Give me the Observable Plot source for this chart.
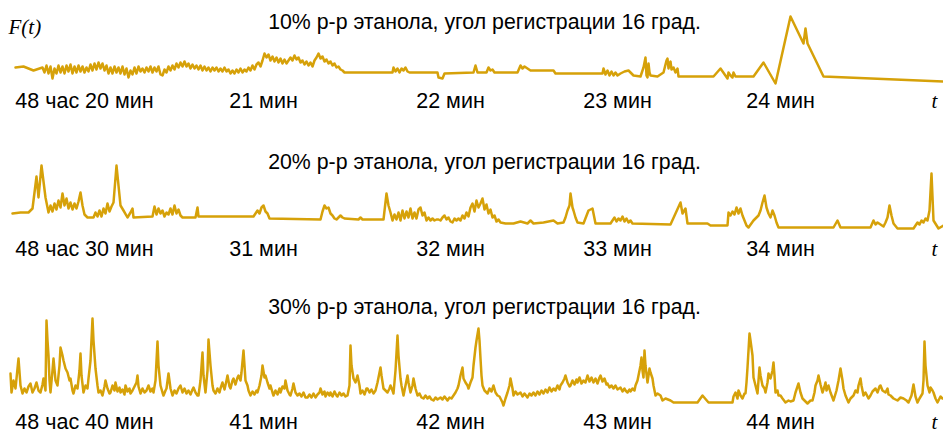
<!DOCTYPE html>
<html><head><meta charset="utf-8">
<script src="https://cdn.jsdelivr.net/npm/d3@7"></script>
<script src="https://cdn.jsdelivr.net/npm/@observablehq/plot@0.6"></script>
<style>
body{margin:0;background:#fff;}
#chart{width:943px;height:434px;position:relative;overflow:hidden;}
#chart svg{display:block;overflow:visible;}
</style></head><body><div id="chart"></div>
<script>
// Titles and tick labels
const titles = [
  "10% р-р этанола, угол регистрации 16 град.",
  "20% р-р этанола, угол регистрации 16 град.",
  "30% р-р этанола, угол регистрации 16 град."
];
const tickPos = [84, 263, 450, 617, 780];
const ticks10 = ["48 час 20 мин", "21 мин", "22 мин", "23 мин", "24 мин"];
const ticks20 = ["48 час 30 мин", "31 мин", "32 мин", "33 мин", "34 мин"];
const ticks30 = ["48 час 40 мин", "41 мин", "42 мин", "43 мин", "44 мин"];

// Series: [time sample, F(t)] pairs, one array per panel
const p10 = [[15,23],[23,24],[33,20],[42,23],[44,18],[46,25],[48,17],[50,24],[52,12],[54,22],[56,17],[58,25],[60,18],[62,24],[64,17],[66,25],[68,19],[70,26],[72,17],[74,24],[76,18],[78,25],[80,19],[82,24],[84,18],[86,23],[88,19],[90,26],[92,20],[94,27],[96,21],[98,28],[100,22],[102,27],[104,20],[106,25],[108,17],[110,23],[112,17],[114,24],[116,18],[118,23],[120,17],[122,24],[124,16],[126,22],[128,13],[130,20],[132,16],[134,23],[136,17],[138,24],[140,19],
[142,22],[144,18],[146,23],[148,19],[150,24],[152,18],[154,23],[156,19],[158,24],[160,16],[162,15],[164,21],[166,18],[168,24],[170,20],[172,25],[174,21],[176,27],[178,23],[180,28],[182,24],[184,29],[186,24],[188,27],[190,22],[192,26],[194,22],[196,25],[198,21],[200,25],[202,20],[204,24],[206,20],[208,23],[210,19],[212,23],[214,20],[216,23],[218,19],[220,22],[222,19],[224,23],[226,19],[228,21],[230,17],[232,20],[234,17],[236,21],[238,18],[240,22],[242,18],[244,21],[246,19],[248,23],[250,20],[252,25],[254,21],[256,26],[258,28],[260,24],
[262,30],[264,37],[266,33],[268,36],[270,30],[272,34],[274,29],[276,33],[278,28],[280,32],[282,27],[284,31],[286,27],[288,30],[290,33],[292,30],[294,35],[296,31],[298,33],[300,28],[302,30],[304,26],[306,29],[308,25],[310,28],[312,24],[314,30],[316,33],[318,37],[320,32],[322,34],[324,29],[326,31],[328,27],[330,29],[332,25],[334,27],[336,23],[338,24],[340,21],[342,20],[344,18],
[348,18],[392,18],[393,23],[395,19],[397,22],[399,18],[401,22],[403,20],[405,23],[407,19],[409,18],[437,18],[438,13],[442,12],[444,17],[473,18],[475,25],[477,18],[486,18],[488,23],[490,20],[492,21],[494,18],[517,18],[520,25],[522,22],[524,24],[527,22],[530,20],[553,20],[555,17],[602,17],[603,22],[605,16],[607,20],[609,15],[611,19],[613,15],[615,18],[617,15],[620,17],[624,19],[628,20],[633,15],[640,14],[643,23],[645,33],[646,15],[647,13],[648,27],[649,18],[650,15],[657,14],[663,18],[666,30],[667,32],[668,22],[669,27],[670,29],[671,21],[673,23],[675,18],[677,22],[678,14],[713,14],[720,22],[727,12],[728,18],[730,15],[732,13],[733,18],[735,14],[753,14],[763,28],[775,7],[790,74],[803,47],[805,62],[807,47],[808,45],[823,14],[943,9]];

const p20 = [[12,22],[20,23],[28,23],[32,27],[36,59],[38,38],[41,70],[45,38],[48,23],[50,30],[52,24],[54,32],[56,26],[58,35],[60,28],[62,42],[64,30],[66,37],[68,27],[70,33],[72,26],[74,32],[76,27],[78,34],[80,43],[82,30],[84,21],[87,18],[93,18],[95,23],[97,19],[99,25],[101,19],[103,27],[105,22],[107,32],[109,24],[111,29],[113,33],[116,70],[120,30],[123,25],[127,18],[130,23],[132,27],[133,18],
[152,19],[154,29],[156,21],[158,27],[160,22],[162,25],[164,19],[166,23],[168,21],[170,27],[172,21],[174,30],[176,22],[178,26],[180,20],[182,18],[195,18],[197,28],[198,19],[253,19],[255,22],[257,25],[259,22],[261,28],[263,30],[265,24],[267,22],[269,17],[320,16],[322,24],[324,30],[326,27],[328,28],[330,22],[332,20],[334,17],[336,16],[338,18],[340,20],[342,18],[344,17],[358,16],[360,18],[362,16],[383,16],[386,42],[388,30],
[390,23],[392,15],[394,21],[396,16],[398,23],[400,15],[402,25],[404,17],[406,24],[408,18],[410,27],[412,17],[414,23],[416,17],[418,26],[420,28],[422,20],[424,23],[426,15],[428,18],[430,15],[432,17],[434,15],[436,16],[438,16],[440,15],[442,18],[444,20],[446,16],[448,18],[450,14],[452,13],[454,17],[456,15],[458,17],[460,15],[462,20],[464,17],[466,23],[468,19],[470,28],[472,32],[474,24],[476,35],[478,28],[480,32],[482,37],[484,26],[486,31],[488,22],[490,26],[492,18],[494,20],[496,14],[498,16],[500,13],
[505,12],[513,12],[520,14],[527,12],[530,15],[533,12],[543,13],[553,15],[557,12],[563,13],[565,18],[567,25],[569,30],[570,42],[572,28],[573,25],[575,18],[577,13],[583,12],[588,25],[592,27],[595,12],[610,12],[612,15],[614,18],[616,14],[618,17],[620,15],[622,19],[624,14],[626,17],[628,13],[630,15],[632,12],[670,11],[680,33],[682,22],[685,27],[687,12],[707,12],[710,10],[727,10],[728,23],[730,20],[732,24],[734,21],[736,28],[738,22],[740,27],[742,20],[744,15],[746,10],[748,8],[753,15],[758,20],[760,25],[762,33],[764,40],[766,28],[768,22],[770,18],[772,25],[774,20],[776,13],[778,8],[833,8],[837,15],[840,8],[870,8],[873,15],[875,11],[877,13],[880,11],[883,9],[885,13],[887,18],[889,30],[891,20],[893,12],[897,7],[913,7],[915,10],[917,13],[919,11],[921,15],[923,13],[925,17],[927,15],[929,25],[931,62],[933,15],[938,7],[943,10]];

const p30 = [[10,37],[11,18],[13,30],[15,22],[17,42],[18,52],[20,25],[22,17],[24,22],[26,18],[28,24],[30,27],[32,18],[34,22],[36,28],[38,20],[40,18],[42,26],[43,32],[45,20],[46,90],[47,70],[48,55],[49,30],[50,18],[52,40],[53,52],[55,30],[57,25],[59,45],[60,63],[62,55],[63,50],[65,42],[67,38],[69,30],[70,32],[72,20],[73,17],[75,25],[77,22],[79,40],[80,57],[81,35],[83,18],[85,25],[87,22],[88,32],[90,50],[92,92],[93,70],[95,42],[97,25],[98,18],[100,20],
[102,15],[104,24],[105,30],[107,22],[109,17],[110,18],[112,25],[114,20],[115,28],[117,19],[119,23],[120,18],[122,21],[124,16],[125,25],[127,19],[129,22],[130,17],[132,20],[134,24],[136,28],[137,35],[138,24],[140,17],[142,22],[144,18],[146,20],[148,25],[150,19],[152,22],[153,18],[155,30],[157,69],[158,45],[160,25],[162,18],[163,15],[165,20],[166,22],[168,37],[170,22],[172,15],[174,20],[176,17],[178,22],[180,25],[182,18],[184,22],[186,17],[188,20],[190,16],[192,21],[193,23],[195,18],[197,15],[198,15],[200,30],[202,58],[203,35],[205,18],[207,40],[208,71],[210,45],[212,25],[213,20],[215,17],[217,22],[219,18],[220,22],[222,28],[224,21],[226,30],[227,35],[229,24],[230,22],[232,30],[233,32],[235,26],[237,33],[238,35],[240,30],[241,38],[243,60],[244,45],[245,30],[247,25],[248,20],[250,15],
[252,19],[254,16],[256,20],[257,18],[259,25],[261,35],[262,45],[264,33],[265,35],[267,28],[269,22],[270,25],[272,18],[273,15],[275,20],[277,16],[279,22],[280,18],[282,24],[284,22],[285,30],[287,20],[289,16],[290,15],[292,22],[293,27],[295,18],[297,15],[299,17],[301,14],[303,18],[305,13],[307,13],[309,16],[311,13],[313,17],[315,13],[317,16],[319,18],[320,22],[322,16],[324,19],[325,14],[327,18],[329,15],[330,18],[332,14],[334,19],[336,15],[337,14],[339,18],[341,15],[343,17],[345,14],[347,15],[349,25],[350,65],[351,45],[353,32],[355,28],[357,35],[359,25],[360,17],[362,20],[364,16],[366,22],[367,22],[369,18],[371,21],[373,17],[375,20],[377,28],[378,33],[380,43],[381,35],[383,22],[385,20],[387,18],[389,22],[390,25],[392,20],[393,17],[395,40],[397,75],[398,55],[400,32],[401,25],[403,15],[405,25],[407,35],[408,28],[410,18],[412,25],[413,32],[415,22],[417,15],[419,17],[421,13],[423,12],[425,15],[427,12],[429,14],[431,11],[433,10],[435,13],[437,11],[440,13],[442,11],[444,14],[447,10],[449,13],[451,12],[453,15],[455,18],[457,22],[458,25],[460,35],[462,43],[463,32],[465,28],[467,25],[468,22],[470,28],[472,33],[473,45],[475,63],[476,70],[478,82],[479,70],[480,52],[481,35],[482,25],[484,20],[486,18],[487,17],[489,22],[491,19],[493,25],[495,18],[497,15],[499,14],[500,12],[502,8],[503,5],[505,12],[507,18],[509,25],[510,32],[512,22],[513,15],[515,19],[517,16],[520,18],[522,14],[524,17],[527,13],[529,17],[531,15],[533,18],[535,15],[537,19],[539,16],[541,20],[543,17],[545,21],[547,18],[549,23],[551,19],[553,22],[555,20],[557,25],[559,21],[560,25],[562,28],[564,32],[565,35],[567,28],[569,24],[570,25],[572,30],[574,26],[576,31],[577,28],[579,33],[581,27],[583,30],[585,28],[587,35],[589,29],[591,33],[593,28],[595,32],[597,27],[599,33],[600,35],[602,29],[604,32],[606,26],[607,27],[609,23],[611,25],[613,22],[615,25],[617,21],[620,23],[622,19],[624,22],[625,20],[627,18],[629,21],[630,19],[632,22],[634,20],[635,25],[637,30],[638,35],[640,45],[641,53],[642,40],[643,33],[644,60],[645,45],[647,28],[648,35],[649,42],[650,38],[652,32],[653,25],[655,15],[657,17],[660,15],[662,10],[665,12],[670,10],[673,8],
[697,8],[702,15],[708,8],[732,8],[733,14],[735,18],[737,12],[738,20],[740,15],[742,12],[744,17],[745,17],[746,28],[747,43],[748,60],[749,77],[750,70],[752,55],[753,33],[755,25],[757,17],[758,30],[759,43],[760,35],[762,25],[764,22],[765,18],[767,28],[768,37],[770,32],[772,40],[773,48],[774,35],[775,18],[777,20],[778,15],[780,15],[782,12],[785,8],[788,10],[790,9],[793,10],[795,18],[797,24],[798,27],[800,18],[802,12],[805,9],[807,7],[810,10],[812,10],[814,18],[815,25],[817,30],[818,35],[820,26],[822,18],[824,24],[825,28],[826,20],[828,25],[830,18],[833,10],[836,20],[838,30],[840,42],[842,30],[843,22],[845,15],[848,8],[850,12],[853,15],[855,20],[857,18],[858,25],[860,32],[861,25],[863,15],[865,18],[868,12],[870,15],[872,19],[875,22],[877,18],[879,24],[880,25],[882,20],[885,18],[887,22],[888,16],[890,15],[893,12],[897,10],[900,13],[903,12],[906,10],[908,8],[911,15],[913,26],[915,14],[917,8],[919,12],[922,17],[923,30],[924,69],[925,45],[927,25],[929,18],[930,23],[932,20],[933,18],[935,12],[937,8],[940,14],[942,12]];

const color = "#d6a109";
const sans = "Liberation Sans, Arial, sans-serif";
const serif = "Liberation Serif, Times New Roman, serif";

const panels = [
  {data: p10, title: titles[0], ticks: ticks10, height: 140, mt: 10, mb: 50, pad: 2, ft: true},
  {data: p20, title: titles[1], ticks: ticks20, height: 145, mt: 10, mb: 50, pad: 5, ft: false},
  {data: p30, title: titles[2], ticks: ticks30, height: 149, mt: 10, mb: 24, pad: 3, ft: false}
];

const root = document.getElementById("chart");
for (const p of panels) {
  const data = p.data.map(([t, f]) => ({t, f}));
  const labelMap = new Map(tickPos.map((x, i) => [x, p.ticks[i]]));
  const marks = [
    Plot.line(data, {x: "t", y: "f", stroke: color, strokeWidth: 2.5, strokeLinejoin: "round"}),
    Plot.axisX(tickPos, {tickSize: 0, tickPadding: p.pad, tickFormat: d => labelMap.get(d), fontSize: 21.5, fontFamily: sans, fill: "#000", label: null}),
    Plot.text([p.title], {frameAnchor: "top", dx: 12.5, dy: 18, lineAnchor: "bottom", fontSize: 21.3, fontFamily: sans, fill: "#000"}),
    Plot.text(["t"], {frameAnchor: "bottom-right", dx: -9, dy: p.pad + 15, lineAnchor: "bottom", textAnchor: "middle", fontSize: 21, fontFamily: serif, fontStyle: "italic", fill: "#000"})
  ];
  if (p.ft) marks.push(Plot.text(["F(t)"], {frameAnchor: "top-left", dx: 8, dy: 23, lineAnchor: "bottom", textAnchor: "start", fontSize: 21, fontFamily: serif, fontStyle: "italic", fill: "#000"}));
  const chart = Plot.plot({
    width: 943, height: p.height,
    marginLeft: 0, marginRight: 0, marginTop: p.mt, marginBottom: p.mb,
    x: {domain: [0, 943], axis: null, label: null},
    y: {domain: [0, p.height - p.mt - p.mb], axis: null, label: null},
    style: {background: "#fff", overflow: "visible"},
    marks
  });
  root.appendChild(chart);
}
</script></body></html>
